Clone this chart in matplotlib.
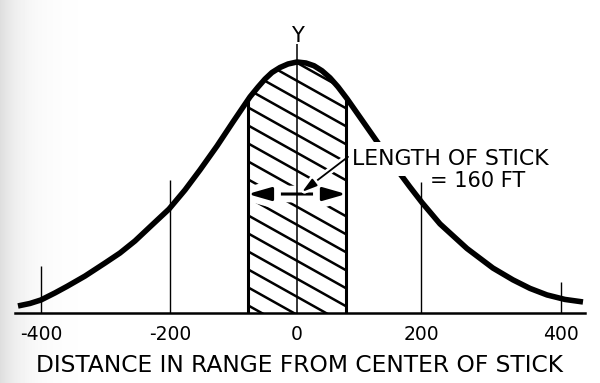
import numpy as np
import matplotlib.pyplot as plt
from matplotlib.patches import Polygon
import matplotlib.patheffects as pe

# curve (feet from centre, relative height)
curve_x = [-429.2, -410.8, -393.8, -372.3, -353.8, -326.2, -295.4, -272.3, -249.2, -226.2,
           -196.9, -172.3, -149.2, -123.1, -98.5, -72.3, -60.0, -49.2, -38.5, -26.2, -13.8,
           0.0, 13.8, 26.2, 38.5, 50.8, 63.1, 76.9, 96.9, 123.1, 150.8, 173.8, 192.3, 220.0,
           261.5, 301.5, 332.3, 358.5, 384.6, 412.3, 440.0]
curve_y = [0.028, 0.038, 0.052, 0.080, 0.106, 0.147, 0.199, 0.239, 0.287, 0.343,
           0.414, 0.490, 0.570, 0.665, 0.761, 0.861, 0.900, 0.932, 0.958, 0.978, 0.992,
           1.000, 0.996, 0.985, 0.965, 0.937, 0.901, 0.854, 0.780, 0.683, 0.582, 0.502, 0.440, 0.355,
           0.257, 0.179, 0.132, 0.098, 0.072, 0.054, 0.044]

tick_pos = [-394, -195, 0, 191, 406]
tick_labels = ['-400', '-200', '0', '200', '400']

ref_x = [-394, -195, 191, 406]
ref_h = [0.187, 0.53, 0.522, 0.124]

half_stick = 76

fig = plt.figure(figsize=(6, 3.83), dpi=100)

# scan shading on the left edge
bg = fig.add_axes([0, 0, 1, 1], zorder=-1)
cols = np.arange(600)
shade = 1 - 0.13 * np.exp(-cols / 22.0)
bg.imshow(shade[None, :], cmap='gray', vmin=0, vmax=1, aspect='auto', extent=[0, 1, 0, 1])
bg.axis('off')

ax = fig.add_axes([15 / 600, 70 / 383, 570 / 600, 293 / 383])
ax.set_facecolor('none')
ax.set_xlim(-433.8, 443.1)
ax.set_ylim(0, 1.1673)

ax.plot(curve_x, curve_y, color='black', lw=4, solid_capstyle='butt',
        solid_joinstyle='round', zorder=5)

# hatched stick region
h_left = np.interp(-half_stick, curve_x, curve_y)
h_right = np.interp(half_stick, curve_x, curve_y)
inner = [(x, y) for x, y in zip(curve_x, curve_y) if -half_stick < x < half_stick]
pts = [(-half_stick, h_left)] + inner + [(half_stick, h_right), (half_stick, 0), (-half_stick, 0)]
clip = Polygon(pts, closed=True, transform=ax.transData, facecolor='none', edgecolor='none')
ax.add_patch(clip)

slope = -0.00145
step = 0.0717
c0 = 0.39 + slope * half_stick
for k in range(-7, 14):
    c = c0 + k * step
    ln, = ax.plot([-half_stick, half_stick],
                  [c - slope * half_stick, c + slope * half_stick],
                  color='black', lw=1.8, zorder=7)
    ln.set_clip_path(clip)

ax.vlines([-half_stick, half_stick], 0, [h_left, h_right], color='black', lw=2.2, zorder=9)
ax.vlines(ref_x, 0, ref_h, color='black', lw=1.0, zorder=4)

# Y axis
ax.vlines(0, 0, 1.072, color='black', lw=1.1, zorder=9)
ax.text(0, 1.08, 'Y', ha='center', va='baseline', fontsize=15)

# stick length arrow
arr = ax.annotate('', xy=(half_stick, 0.474), xytext=(-half_stick, 0.474),
                  arrowprops=dict(arrowstyle='<|-|>,head_length=0.7,head_width=0.2',
                                  lw=2.2, color='black', shrinkA=0, shrinkB=0,
                                  mutation_scale=20), zorder=8)
arr.arrow_patch.set_path_effects([pe.Stroke(linewidth=12, foreground='white'), pe.Normal()])

lead = ax.annotate('', xy=(7.7, 0.482), xytext=(78.5, 0.622),
                   arrowprops=dict(arrowstyle='-|>,head_length=0.45,head_width=0.13',
                                   lw=1.3, color='black', shrinkA=0, shrinkB=0,
                                   mutation_scale=20), zorder=8.5)
lead.arrow_patch.set_path_effects([pe.Stroke(linewidth=5, foreground='white'), pe.Normal()])

ax.text(84.6, 0.59, 'LENGTH OF STICK', fontsize=15.8, ha='left', va='baseline', zorder=6,
        bbox=dict(facecolor='white', edgecolor='none', pad=5))
ax.text(204.6, 0.502, '= 160 FT', fontsize=15, ha='left', va='baseline', zorder=6)

for s in ['top', 'left', 'right']:
    ax.spines[s].set_visible(False)
ax.spines['bottom'].set_linewidth(1.8)
ax.set_xticks(tick_pos, tick_labels, fontsize=13.5)
ax.tick_params(axis='x', length=0, pad=9)
ax.set_yticks([])
ax.set_xlabel('DISTANCE IN RANGE FROM CENTER OF STICK', fontsize=16.8, labelpad=7)

fig.savefig('out.png', dpi=100)
